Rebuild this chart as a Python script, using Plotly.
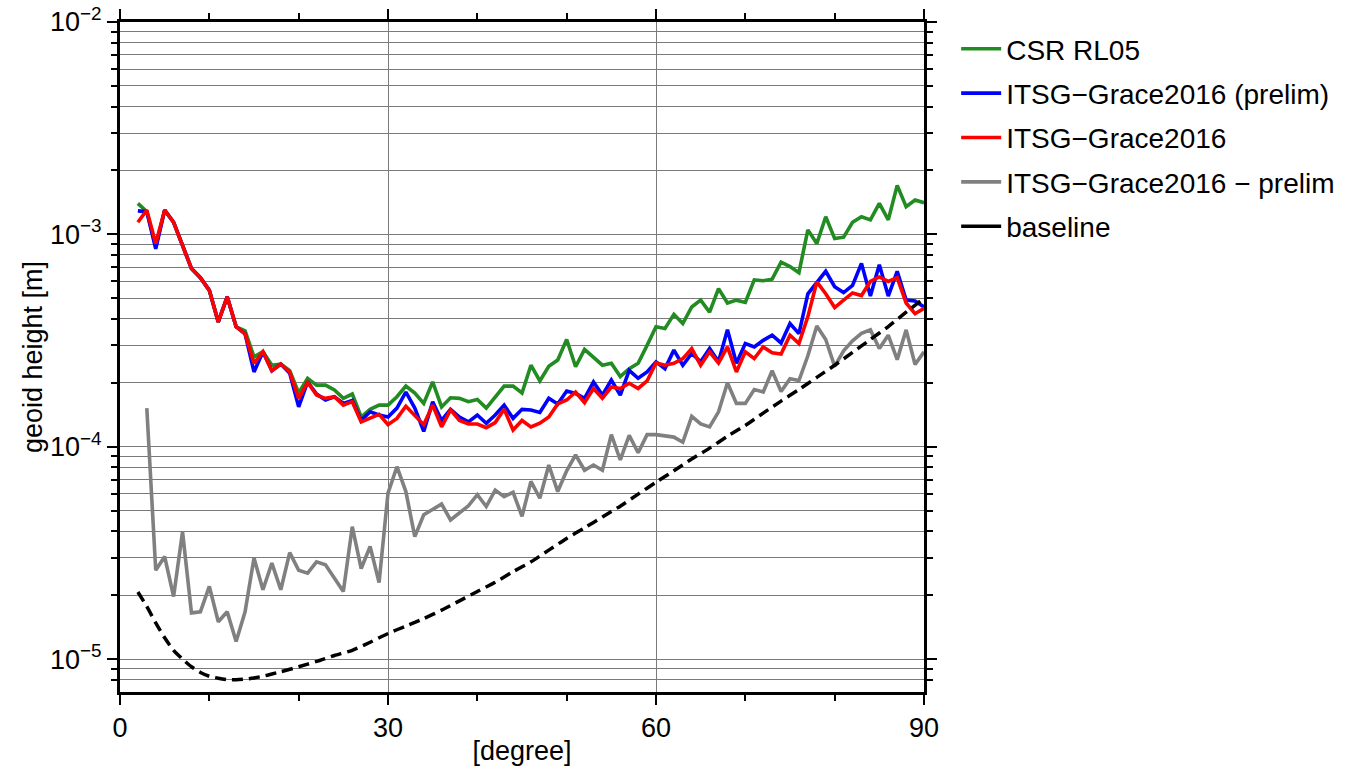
import plotly.graph_objects as go

# ---------------- data ----------------
degrees = list(range(2, 91))

csr_rl05 = [
    1.40e-3, 1.28e-3, 8.8e-4, 1.30e-3, 1.14e-3, 8.8e-4, 6.9e-4, 6.25e-4, 5.45e-4, 3.87e-4,
    5.08e-4, 3.67e-4, 3.51e-4, 2.65e-4, 2.80e-4, 2.42e-4, 2.45e-4, 2.28e-4, 1.79e-4, 2.10e-4,
    1.95e-4, 1.95e-4, 1.85e-4, 1.69e-4, 1.77e-4, 1.38e-4, 1.50e-4, 1.57e-4, 1.57e-4, 1.72e-4,
    1.93e-4, 1.79e-4, 1.60e-4, 2.02e-4, 1.54e-4, 1.70e-4, 1.69e-4, 1.63e-4, 1.67e-4, 1.52e-4,
    1.72e-4, 1.93e-4, 1.93e-4, 1.79e-4, 2.42e-4, 2.04e-4, 2.39e-4, 2.56e-4, 3.20e-4, 2.38e-4,
    2.87e-4, 2.65e-4, 2.42e-4, 2.47e-4, 2.14e-4, 2.33e-4, 2.47e-4, 3.00e-4, 3.67e-4, 3.60e-4,
    4.20e-4, 3.80e-4, 4.55e-4, 4.90e-4, 4.30e-4, 5.55e-4, 4.75e-4, 4.90e-4, 4.78e-4, 6.10e-4,
    6.05e-4, 6.15e-4, 7.40e-4, 7.05e-4, 6.60e-4, 1.05e-3, 9.05e-4, 1.21e-3, 9.55e-4, 9.70e-4,
    1.14e-3, 1.21e-3, 1.17e-3, 1.40e-3, 1.17e-3, 1.70e-3, 1.35e-3, 1.45e-3, 1.41e-3,
]

itsg_prelim = [
    1.29e-3, 1.28e-3, 8.55e-4, 1.30e-3, 1.14e-3, 8.8e-4, 6.9e-4, 6.25e-4, 5.45e-4, 3.87e-4,
    5.08e-4, 3.67e-4, 3.40e-4, 2.25e-4, 2.80e-4, 2.28e-4, 2.45e-4, 2.22e-4, 1.54e-4, 2.02e-4,
    1.77e-4, 1.66e-4, 1.72e-4, 1.60e-4, 1.65e-4, 1.33e-4, 1.46e-4, 1.41e-4, 1.38e-4, 1.52e-4,
    1.81e-4, 1.52e-4, 1.18e-4, 1.63e-4, 1.33e-4, 1.50e-4, 1.38e-4, 1.31e-4, 1.41e-4, 1.29e-4,
    1.41e-4, 1.57e-4, 1.36e-4, 1.50e-4, 1.49e-4, 1.45e-4, 1.69e-4, 1.59e-4, 1.83e-4, 1.78e-4,
    1.69e-4, 2.02e-4, 1.75e-4, 2.06e-4, 1.75e-4, 2.29e-4, 2.10e-4, 2.25e-4, 2.51e-4, 2.33e-4,
    2.85e-4, 2.42e-4, 2.75e-4, 2.51e-4, 2.90e-4, 2.51e-4, 3.56e-4, 2.47e-4, 3.06e-4, 2.95e-4,
    3.17e-4, 3.35e-4, 3.08e-4, 3.80e-4, 3.41e-4, 5.25e-4, 5.97e-4, 6.70e-4, 5.67e-4, 5.32e-4,
    5.75e-4, 7.30e-4, 5.12e-4, 7.20e-4, 5.12e-4, 6.70e-4, 4.90e-4, 4.86e-4, 4.55e-4,
]

itsg2016 = [
    1.14e-3, 1.30e-3, 9.05e-4, 1.30e-3, 1.14e-3, 8.8e-4, 6.9e-4, 6.25e-4, 5.45e-4, 3.87e-4,
    5.08e-4, 3.67e-4, 3.40e-4, 2.47e-4, 2.80e-4, 2.28e-4, 2.45e-4, 2.25e-4, 1.69e-4, 2.01e-4,
    1.75e-4, 1.69e-4, 1.72e-4, 1.57e-4, 1.63e-4, 1.31e-4, 1.36e-4, 1.42e-4, 1.27e-4, 1.36e-4,
    1.55e-4, 1.41e-4, 1.27e-4, 1.57e-4, 1.24e-4, 1.49e-4, 1.33e-4, 1.28e-4, 1.28e-4, 1.23e-4,
    1.30e-4, 1.50e-4, 1.20e-4, 1.33e-4, 1.24e-4, 1.29e-4, 1.38e-4, 1.59e-4, 1.66e-4, 1.81e-4,
    1.61e-4, 1.88e-4, 1.69e-4, 1.91e-4, 1.88e-4, 1.99e-4, 1.88e-4, 2.04e-4, 2.48e-4, 2.42e-4,
    2.47e-4, 2.60e-4, 2.90e-4, 2.42e-4, 2.80e-4, 2.48e-4, 2.95e-4, 2.25e-4, 2.80e-4, 2.60e-4,
    2.95e-4, 2.77e-4, 2.73e-4, 3.35e-4, 3.06e-4, 4.10e-4, 5.97e-4, 5.25e-4, 4.52e-4, 4.90e-4,
    5.30e-4, 5.15e-4, 6.00e-4, 6.30e-4, 6.00e-4, 6.25e-4, 4.75e-4, 4.23e-4, 4.48e-4,
]

diff_degrees = list(range(3, 91))
itsg_diff = [
    1.52e-4, 2.62e-5, 3.04e-5, 1.97e-5, 3.98e-5, 1.65e-5, 1.67e-5, 2.20e-5, 1.50e-5, 1.67e-5,
    1.21e-5, 1.67e-5, 2.99e-5, 2.12e-5, 2.83e-5, 2.12e-5, 3.17e-5, 2.62e-5, 2.54e-5, 2.87e-5,
    2.78e-5, 2.40e-5, 2.08e-5, 4.20e-5, 2.67e-5, 3.39e-5, 2.29e-5, 6.05e-5, 8.05e-5, 6.15e-5,
    3.77e-5, 4.78e-5, 5.05e-5, 5.37e-5, 4.52e-5, 4.90e-5, 5.27e-5, 5.95e-5, 5.23e-5, 6.25e-5,
    5.82e-5, 6.10e-5, 4.70e-5, 6.87e-5, 5.72e-5, 8.20e-5, 6.15e-5, 7.70e-5, 9.15e-5, 7.75e-5,
    8.20e-5, 7.75e-5, 1.14e-4, 8.66e-5, 1.13e-4, 9.37e-5, 1.14e-4, 1.14e-4, 1.13e-4, 1.11e-4,
    1.05e-4, 1.39e-4, 1.28e-4, 1.24e-4, 1.46e-4, 2.00e-4, 1.60e-4, 1.60e-4, 1.86e-4, 1.81e-4,
    2.28e-4, 1.82e-4, 2.09e-4, 2.05e-4, 2.68e-4, 3.70e-4, 3.20e-4, 2.39e-4, 2.83e-4, 3.15e-4,
    3.42e-4, 3.55e-4, 2.90e-4, 3.35e-4, 2.57e-4, 3.55e-4, 2.44e-4, 2.80e-4,
]

baseline_degrees = [2, 3, 4, 5, 6, 7, 8, 9, 10, 11, 12, 13, 14, 15, 16, 17, 18,
                    20, 22, 24, 26, 28, 30, 32, 34, 36, 38, 40, 42, 44, 46, 48,
                    50, 52, 54, 56, 58, 60, 62, 64, 66, 68, 70, 72, 74, 76, 78,
                    80, 82, 84, 86, 88, 90]
baseline = [2.07e-5, 1.77e-5, 1.48e-5, 1.26e-5, 1.10e-5, 1.00e-5, 9.2e-6, 8.65e-6, 8.3e-6,
            8.12e-6, 8.0e-6, 8.0e-6, 8.05e-6, 8.15e-6, 8.3e-6, 8.5e-6, 8.72e-6,
            9.2e-6, 9.75e-6, 1.04e-5, 1.10e-5, 1.20e-5, 1.32e-5, 1.43e-5, 1.55e-5, 1.70e-5,
            1.88e-5, 2.08e-5, 2.30e-5, 2.58e-5, 2.87e-5, 3.26e-5,
            3.70e-5, 4.15e-5, 4.67e-5, 5.25e-5, 5.98e-5, 6.80e-5, 7.70e-5, 8.75e-5, 9.85e-5,
            1.12e-4, 1.26e-4, 1.44e-4, 1.64e-4, 1.86e-4, 2.12e-4,
            2.42e-4, 2.78e-4, 3.20e-4, 3.68e-4, 4.30e-4, 5.00e-4]

x_major_ticks = [0, 30, 60, 90]
x_minor_ticks = [10, 20, 40, 50, 70, 80]
y_major_ticks = [1e-5, 1e-4, 1e-3, 1e-2]
y_major_text = ["10<sup>−5</sup>", "10<sup>−4</sup>", "10<sup>−3</sup>", "10<sup>−2</sup>"]
y_minor_ticks = [m * 10.0 ** e for e in (-6, -5, -4, -3) for m in range(2, 10)
                 if 7.5e-6 < m * 10.0 ** e < 1e-2]

# ---------------- figure ----------------
FONT = "Liberation Sans, Arial, Helvetica, sans-serif"
FS = 27
LFS = 28

fig = go.Figure()

line_series = [
    ("CSR RL05", degrees, csr_rl05, "#228B22"),
    ("ITSG−Grace2016 (prelim)", degrees, itsg_prelim, "#0000FF"),
    ("ITSG−Grace2016", degrees, itsg2016, "#FF0000"),
    ("ITSG−Grace2016 − prelim", diff_degrees, itsg_diff, "#808080"),
]
for name, xs, ys, col in line_series:
    fig.add_trace(go.Scatter(x=xs, y=ys, mode="lines", name=name, legendgroup=name,
                             line=dict(color=col, width=3.6)))

fig.add_trace(go.Scatter(x=baseline_degrees, y=baseline, mode="lines", name="baseline",
                         showlegend=False, legendgroup="baseline_curve",
                         line=dict(color="black", width=3.5, dash="11px,6px", shape="spline",
                                   smoothing=0.6)))
# legend entry for the baseline (solid sample, as in the reference)
fig.add_trace(go.Scatter(x=[None], y=[None], mode="lines", name="baseline", legendgroup="baseline",
                         line=dict(color="black", width=3.6)))

axis_common = dict(
    showline=True, linewidth=3, linecolor="black", mirror="allticks",
    ticks="outside", tickwidth=1.5, tickcolor="black",
    tickfont=dict(family=FONT, size=FS, color="black"),
    showgrid=True, gridcolor="#7a7a7a", gridwidth=1, zeroline=False,
)

fig.update_xaxes(
    range=[0, 90], tickmode="array", tickvals=x_major_ticks, ticklen=10,
    minor=dict(tickmode="array", tickvals=x_minor_ticks, ticks="outside", ticklen=6,
               tickwidth=1.5, tickcolor="black", showgrid=False),
    title=dict(text="[degree]", font=dict(family=FONT, size=FS, color="black"), standoff=2),
    **axis_common,
)
fig.update_yaxes(
    type="log", range=[-5.155, -2], tickmode="array", tickvals=y_major_ticks,
    ticktext=y_major_text, ticklen=10,
    minor=dict(tickmode="array", tickvals=y_minor_ticks, ticks="outside", ticklen=6,
               tickwidth=1.5, tickcolor="black", showgrid=True, gridcolor="#7a7a7a",
               gridwidth=1),
    title=dict(text="geoid height [m]", font=dict(family=FONT, size=FS, color="black"),
               standoff=0),
    **axis_common,
)

fig.update_layout(
    width=1345, height=766,
    margin=dict(l=120, r=421, t=22, b=74, autoexpand=False),
    paper_bgcolor="white", plot_bgcolor="white",
    font=dict(family=FONT, size=FS, color="black"),
    legend=dict(x=1.04, y=0.997, xanchor="left", yanchor="top",
                font=dict(family=FONT, size=LFS, color="black"),
                bgcolor="rgba(0,0,0,0)", tracegroupgap=5, itemwidth=40,
                traceorder="grouped"),
    showlegend=True,
)

fig.write_html("out.html")
